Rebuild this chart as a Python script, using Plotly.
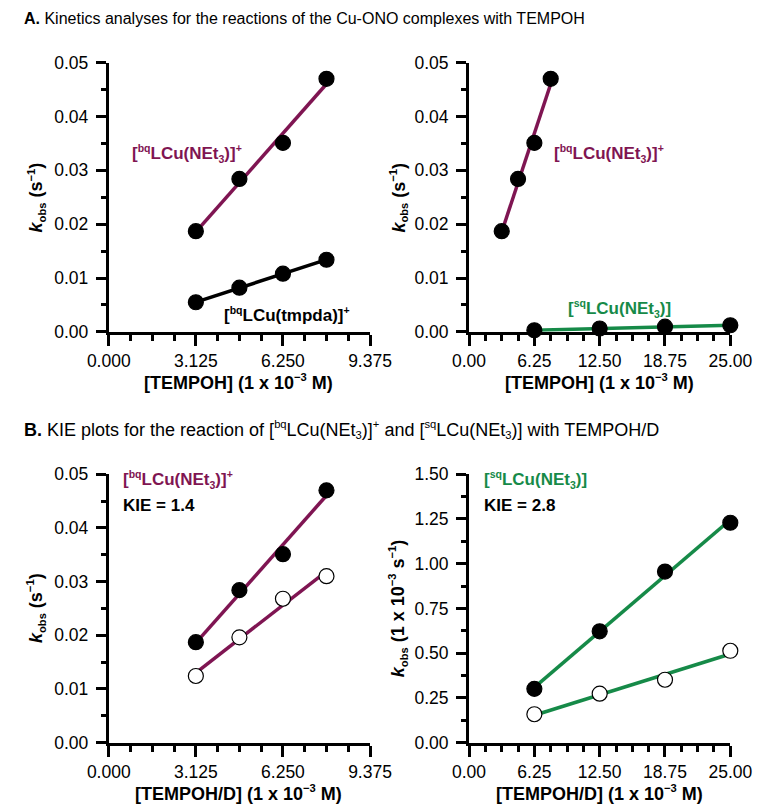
import numpy as np
import plotly.graph_objects as go

# ---------------- data ----------------
conc_bq = [3.125, 4.6875, 6.25, 7.8125]          # [TEMPOH] (mM)
conc_sq = [6.25, 12.5, 18.75, 25.0]              # [TEMPOH] (mM)
k_bq_net3_H = [0.0187, 0.0284, 0.0351, 0.0470]   # s^-1
k_bq_tmpda_H = [0.0055, 0.0082, 0.0108, 0.0134]  # s^-1
k_bq_net3_D = [0.0124, 0.0196, 0.0268, 0.0310]   # s^-1
k_sq_net3_H = [0.300, 0.622, 0.956, 1.229]       # 1e-3 s^-1
k_sq_net3_D = [0.158, 0.273, 0.351, 0.513]       # 1e-3 s^-1

ticks_left_x = [0, 3.125, 6.25, 9.375]
ticks_right_x = [0, 6.25, 12.5, 18.75, 25.0]
ticks_k = [0, 0.01, 0.02, 0.03, 0.04, 0.05]
ticks_k_sq = [0, 0.25, 0.5, 0.75, 1.0, 1.25, 1.5]

PURPLE = "#7f1552"
GREEN = "#168a48"
FONT = "Arial, Liberation Sans, sans-serif"
W, H = 774, 812

def px(x):
    return x / W

def py(y):
    return 1 - y / H

fig = go.Figure()

def add_series(xs, ys, color, xa, ya, filled=True):
    xs = np.asarray(xs, float)
    ys = np.asarray(ys, float)
    m, b = np.polyfit(xs, ys, 1)
    xl = np.array([xs.min(), xs.max()])
    fig.add_trace(go.Scatter(x=xl, y=m * xl + b, mode="lines",
                             line=dict(color=color, width=3.5),
                             xaxis=xa, yaxis=ya, showlegend=False,
                             cliponaxis=False, hoverinfo="skip"))
    fig.add_trace(go.Scatter(x=xs, y=ys, mode="markers",
                             marker=dict(size=15, color="black" if filled else "white",
                                         line=dict(color="black", width=1.2)),
                             xaxis=xa, yaxis=ya, showlegend=False,
                             cliponaxis=False))

# Panel A left
add_series(conc_bq, k_bq_net3_H, PURPLE, "x", "y")
add_series(conc_bq, k_bq_tmpda_H, "black", "x", "y")
# Panel A right
add_series(conc_bq, k_bq_net3_H, PURPLE, "x2", "y2")
add_series(conc_sq, [v * 1e-3 for v in k_sq_net3_H], GREEN, "x2", "y2")
# Panel B left
add_series(conc_bq, k_bq_net3_H, PURPLE, "x3", "y3")
add_series(conc_bq, k_bq_net3_D, PURPLE, "x3", "y3", filled=False)
# Panel B right
add_series(conc_sq, k_sq_net3_H, GREEN, "x4", "y4")
add_series(conc_sq, k_sq_net3_D, GREEN, "x4", "y4", filled=False)

top_y = [py(330), py(54)]
bot_y = [py(751), py(476)]
left_x = [px(92), px(369)]
right_x = [px(474), px(751)]

def axis(domain, anchor, rng, tickvals, fmt, minor_dt, standoff, tl, mtl):
    return dict(domain=domain, anchor=anchor, range=rng, tickvals=tickvals,
                tickformat=fmt, showgrid=False, zeroline=False,
                showline=True, linecolor="black", linewidth=3,
                ticks="outside", ticklen=tl, tickwidth=2.5, tickcolor="black",
                ticklabelstandoff=standoff,
                minor=dict(dtick=minor_dt, tick0=0, ticks="outside", ticklen=mtl,
                           tickwidth=2.5, tickcolor="black", showgrid=False),
                tickfont=dict(size=17.5, color="black", family=FONT))

fig.update_layout(
    width=W, height=H, margin=dict(l=0, r=0, t=0, b=0),
    paper_bgcolor="white", plot_bgcolor="white",
    font=dict(family=FONT, color="black"),
    xaxis=axis(left_x, "y", [0, 9.375], ticks_left_x, ".3f", 0.78125, 0, 11, 6),
    yaxis=axis(top_y, "x", [0, 0.05], ticks_k, ".2f", 0.005, 4, 10, 5),
    xaxis2=axis(right_x, "y2", [0, 25], ticks_right_x, ".2f", 1.5625, 0, 11, 6),
    yaxis2=axis(top_y, "x2", [0, 0.05], ticks_k, ".2f", 0.005, 4, 10, 5),
    xaxis3=axis(left_x, "y3", [0, 9.375], ticks_left_x, ".3f", 0.78125, 0, 11, 6),
    yaxis3=axis(bot_y, "x3", [0, 0.05], ticks_k, ".2f", 0.005, 4, 10, 5),
    xaxis4=axis(right_x, "y4", [0, 25], ticks_right_x, ".2f", 1.5625, 0, 11, 6),
    yaxis4=axis(bot_y, "x4", [0, 1.5], ticks_k_sq, ".2f", 0.125, 4, 10, 5),
)

ann = []
def text(x, y, s, size=17, color="black", xanchor="left", textangle=0, family=FONT):
    ann.append(dict(x=px(x), y=py(y), xref="paper", yref="paper", text=s,
                    showarrow=False, xanchor=xanchor, yanchor="middle",
                    textangle=textangle,
                    font=dict(size=size, color=color, family=family)))

def sup(s, size):
    return f"<sup><span style='font-size:{size * 0.62:.1f}px'>{s}</span></sup>"

def sub(s, size):
    return f"<sub><span style='font-size:{size * 0.62:.1f}px'>{s}</span></sub>"

def bqN(size=17):
    return f"<b>[{sup('bq', size)}LCu(NEt{sub('3', size)})]{sup('+', size)}</b>"

def sqN(size=17):
    return f"<b>[{sup('sq', size)}LCu(NEt{sub('3', size)})]</b>"

def bqT(size=17):
    return f"<b>[{sup('bq', size)}LCu(tmpda)]{sup('+', size)}</b>"

# Section titles
text(0, 9, "<b>A.</b> Kinetics analyses for the reactions of the Cu-ONO complexes with TEMPOH",
     size=16)
text(0, 430, "<b>B.</b> KIE plots for the reaction of "
     f"[{sup('bq', 18)}LCu(NEt{sub('3', 18)})]{sup('+', 18)} and "
     f"[{sup('sq', 18)}LCu(NEt{sub('3', 18)})] with TEMPOH/D", size=18)

# series labels
text(114, 147, bqN(), color=PURPLE)
text(212, 312, bqT(), color="black")
text(562, 147, bqN(), color=PURPLE)
text(577, 306, sqN(), color=GREEN)
text(105, 481, bqN(), color=PURPLE)
text(105, 508, "<b>KIE = 1.4</b>")
text(488, 481, sqN(), color=GREEN)
text(488, 508, "<b>KIE = 2.8</b>")

# axis titles
ts = 18
ytitle = f"<b><i>k</i>{sub('obs', ts)} (s{sup('−1', ts)})</b>"
ytitle_sq = f"<b><i>k</i>{sub('obs', ts)} (1 x 10{sup('−3', ts)} s{sup('−1', ts)})</b>"
xt_A = f"<b>[TEMPOH] (1 x 10{sup('−3', ts)} M)</b>"
xt_B = f"<b>[TEMPOH/D] (1 x 10{sup('−3', ts)} M)</b>"
text(15, 192, ytitle, size=ts, xanchor="center", textangle=-90)
text(399, 192, ytitle, size=ts, xanchor="center", textangle=-90)
text(15, 613, ytitle, size=ts, xanchor="center", textangle=-90)
text(399, 613, ytitle_sq, size=ts, xanchor="center", textangle=-90)
text(230, 381, xt_A, size=ts, xanchor="center")
text(612, 381, xt_A, size=ts, xanchor="center")
text(230, 803, xt_B, size=ts, xanchor="center")
text(612, 803, xt_B, size=ts, xanchor="center")

fig.update_layout(annotations=ann)
fig.write_html("out.html")
